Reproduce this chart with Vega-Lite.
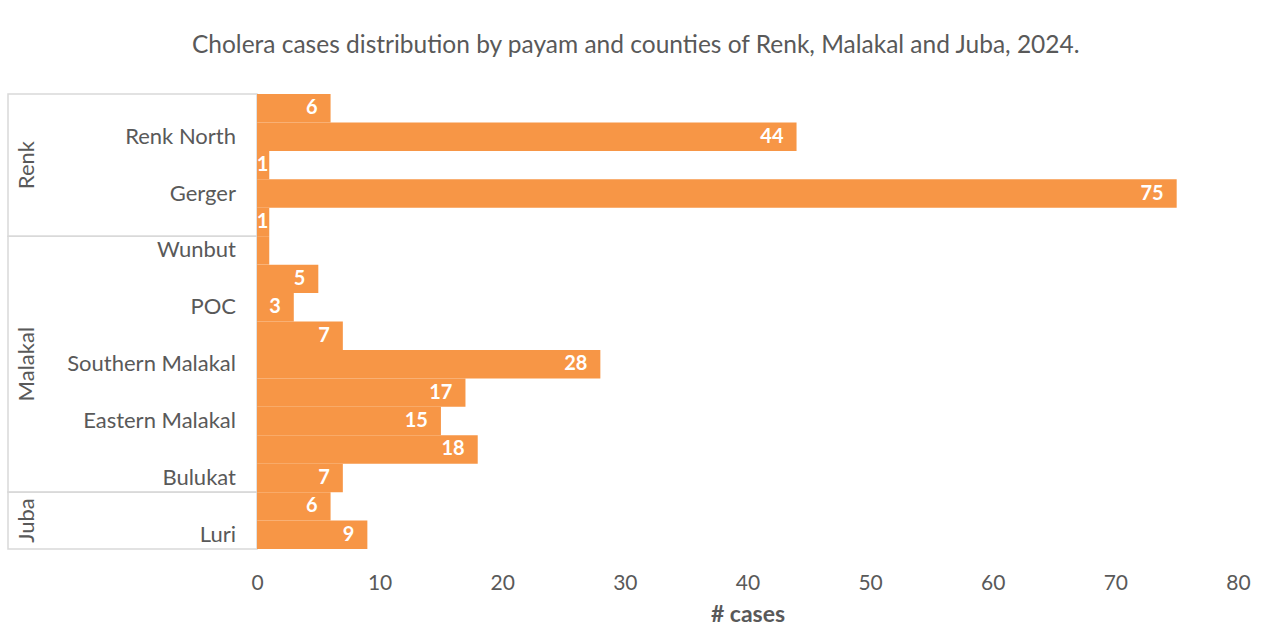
{
  "$schema": "https://vega.github.io/schema/vega-lite/v6.json",
  "padding": {"left": 7, "top": 32, "right": 0, "bottom": 0},
  "background": "white",
  "bounds": "flush",
  "title": {
    "text": "Cholera cases distribution by payam and counties of Renk, Malakal and Juba, 2024.",
    "font": "Lato",
    "fontSize": 24.5,
    "fontWeight": "normal",
    "color": "#595959",
    "anchor": "middle",
    "offset": 35,
    "dx": 7
  },
  "datasets": {
    "payams": [
      {"row": 1, "county": "Renk", "payam": "", "cases": 6, "data_label": "6"},
      {"row": 2, "county": "Renk", "payam": "Renk North", "cases": 44, "data_label": "44"},
      {"row": 3, "county": "Renk", "payam": "", "cases": 1, "data_label": "1"},
      {"row": 4, "county": "Renk", "payam": "Gerger", "cases": 75, "data_label": "75"},
      {"row": 5, "county": "Renk", "payam": "", "cases": 1, "data_label": "1"},
      {"row": 6, "county": "Malakal", "payam": "Wunbut", "cases": 1, "data_label": ""},
      {"row": 7, "county": "Malakal", "payam": "", "cases": 5, "data_label": "5"},
      {"row": 8, "county": "Malakal", "payam": "POC", "cases": 3, "data_label": "3"},
      {"row": 9, "county": "Malakal", "payam": "", "cases": 7, "data_label": "7"},
      {"row": 10, "county": "Malakal", "payam": "Southern Malakal", "cases": 28, "data_label": "28"},
      {"row": 11, "county": "Malakal", "payam": "", "cases": 17, "data_label": "17"},
      {"row": 12, "county": "Malakal", "payam": "Eastern Malakal", "cases": 15, "data_label": "15"},
      {"row": 13, "county": "Malakal", "payam": "", "cases": 18, "data_label": "18"},
      {"row": 14, "county": "Malakal", "payam": "Bulukat", "cases": 7, "data_label": "7"},
      {"row": 15, "county": "Juba", "payam": "", "cases": 6, "data_label": "6"},
      {"row": 16, "county": "Juba", "payam": "Luri", "cases": 9, "data_label": "9"}
    ]
  },
  "hconcat": [
    {
      "width": 249,
      "height": 455,
      "data": {"name": "payams"},
      "layer": [
        {
          "mark": {"type": "rect", "fill": null, "stroke": "#d9d9d9", "strokeWidth": 1.5, "yOffset": -14.22, "y2Offset": 14.22},
          "encoding": {
            "x": {"datum": 0, "type": "quantitative", "scale": {"domain": [0, 1], "nice": false, "zero": false}, "axis": null},
            "x2": {"datum": 1},
            "y": {"aggregate": "min", "field": "row", "type": "quantitative", "scale": {"domain": [0.5, 16.5], "reverse": true, "nice": false, "zero": false}, "axis": null},
            "y2": {"aggregate": "max", "field": "row"},
            "detail": {"field": "county", "type": "nominal"}
          }
        },
        {
          "mark": {"type": "text", "angle": 270, "align": "center", "baseline": "middle", "dy": 19, "font": "Lato", "fontSize": 22, "color": "#595959"},
          "encoding": {
            "x": {"datum": 0, "type": "quantitative"},
            "y": {"aggregate": "mean", "field": "row", "type": "quantitative"},
            "text": {"field": "county", "type": "nominal"}
          }
        },
        {
          "mark": {"type": "text", "align": "right", "baseline": "middle", "dx": -21, "font": "Lato", "fontSize": 22, "color": "#595959"},
          "encoding": {
            "x": {"datum": 1, "type": "quantitative"},
            "y": {"field": "row", "type": "quantitative"},
            "text": {"field": "payam", "type": "nominal"}
          }
        }
      ]
    },
    {
      "width": 981,
      "height": 455,
      "data": {"name": "payams"},
      "encoding": {
        "y": {"field": "row", "type": "ordinal", "scale": {"paddingInner": 0, "paddingOuter": 0}, "axis": null},
        "x": {
          "field": "cases",
          "type": "quantitative",
          "scale": {"domain": [0, 80], "nice": false},
          "axis": {
            "values": [0, 10, 20, 30, 40, 50, 60, 70, 80],
            "grid": false,
            "domain": false,
            "ticks": false,
            "labelFlush": false,
            "labelFont": "Lato",
            "labelFontSize": 21,
            "labelColor": "#595959",
            "labelPadding": 23,
            "title": "# cases",
            "titleFont": "Lato",
            "titleFontSize": 23,
            "titleFontWeight": "bold",
            "titleColor": "#595959",
            "titlePadding": 10
          }
        }
      },
      "layer": [
        {"mark": {"type": "bar", "color": "#F79646"}},
        {
          "transform": [{"filter": "datum.cases >= 2"}],
          "mark": {"type": "text", "align": "right", "baseline": "middle", "dx": -13, "font": "Lato", "fontSize": 20, "fontWeight": "bold", "color": "white"},
          "encoding": {"text": {"field": "data_label", "type": "nominal"}}
        },
        {
          "transform": [{"filter": "datum.cases < 2"}],
          "mark": {"type": "text", "align": "right", "baseline": "middle", "dx": -1, "font": "Lato", "fontSize": 20, "fontWeight": "bold", "color": "white"},
          "encoding": {"text": {"field": "data_label", "type": "nominal"}}
        }
      ]
    }
  ],
  "resolve": {"scale": {"y": "independent", "x": "independent"}},
  "config": {
    "view": {"stroke": null},
    "font": "Lato",
    "concat": {"spacing": 0}
  }
}
